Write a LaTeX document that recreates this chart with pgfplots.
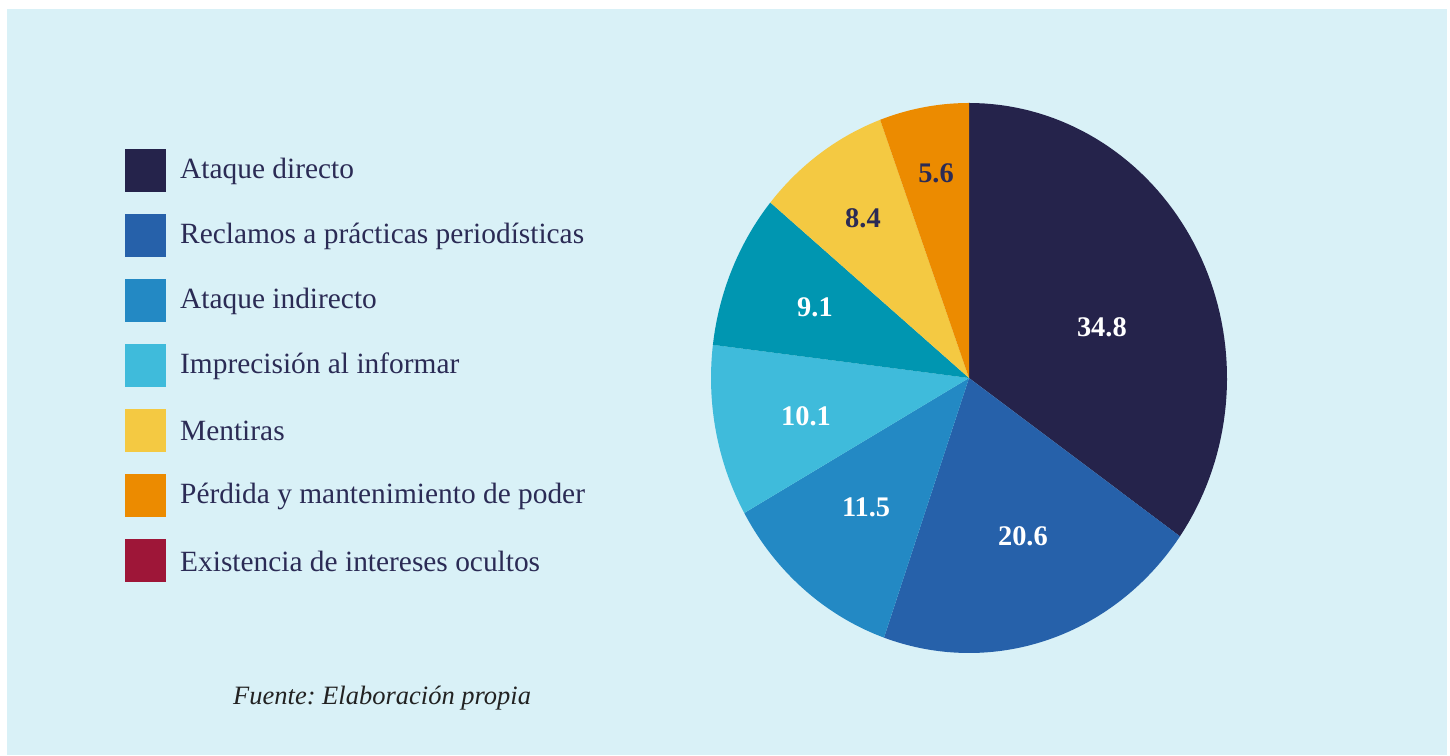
\documentclass[border=0pt]{standalone}
\usepackage{fontspec}
\setmainfont{Liberation Serif}
\usepackage{pgfplots}
\pgfplotsset{compat=1.18}
\frenchspacing
\definecolor{bg}{HTML}{D9F1F7}
\definecolor{cA}{HTML}{25234B}
\definecolor{cB}{HTML}{2661AA}
\definecolor{cC}{HTML}{2389C4}
\definecolor{cD}{HTML}{3FBBDB}
\definecolor{cT}{HTML}{0096B1}
\definecolor{cE}{HTML}{F4C942}
\definecolor{cF}{HTML}{EC8B00}
\definecolor{cG}{HTML}{9E1638}
\definecolor{txt}{HTML}{2B2B55}
\definecolor{src}{HTML}{222222}
\def\total{100.1}
% #1 cumulative before, #2 value, #3 colour
\newcommand\slice[3]{%
  \pgfmathsetmacro\sa{90-(#1)*(360/\total)}%
  \pgfmathsetmacro\se{90-(#1+#2)*(360/\total)}%
  \edef\tmp{\noexpand\fill[#3] (axis cs:0,0) \noexpand\foreach \noexpand\i in {0,...,72} { -- (axis cs:{cos(\sa+(\se-\sa)*\noexpand\i/72)},{sin(\sa+(\se-\sa)*\noexpand\i/72)}) } -- cycle;}%
  \tmp}
\begin{document}
\begin{tikzpicture}[x=1bp,y=1bp]
\useasboundingbox (0,0) rectangle (1450,755);
\fill[white] (0,0) rectangle (1450,755);
\fill[bg] (7,0) rectangle (1447,746);
\begin{axis}[hide axis, scale only axis, width=516bp, height=550bp,
  xmin=-1, xmax=1, ymin=-1, ymax=1, anchor=center, at={(969bp,377bp)}]
\slice{0}{34.8}{cA}
\slice{34.8}{20.6}{cB}
\slice{55.4}{11.5}{cC}
\slice{66.9}{10.1}{cD}
\slice{77.0}{9.1}{cT}
\slice{86.1}{8.4}{cE}
\slice{94.5}{5.6}{cF}
\begin{scope}[every node/.style={font=\fontsize{28.5}{32}\selectfont\bfseries}]
\node[white] at (axis cs:0.515,0.185) {34.8};
\node[white] at (axis cs:0.209,-0.575) {20.6};
\node[white] at (axis cs:-0.399,-0.469) {11.5};
\node[white] at (axis cs:-0.632,-0.138) {10.1};
\node[white] at (axis cs:-0.597,0.258) {9.1};
\node[txt] at (axis cs:-0.411,0.582) {8.4};
\node[txt] at (axis cs:-0.128,0.745) {5.6};
\end{scope}
\end{axis}
% legend
\foreach \c/\t [count=\k from 0] in {cA/Ataque directo, cB/Reclamos a prácticas periodísticas, cC/Ataque indirecto, cD/Imprecisión al informar, cE/Mentiras, cF/Pérdida y mantenimiento de poder, cG/Existencia de intereses ocultos}{
  \pgfmathsetmacro\yy{755-171-65*\k}
  \fill[\c] (125,\yy-21.5) rectangle (166,\yy+21.5);
  \node[anchor=west, inner sep=0pt, text=txt, font=\fontsize{29.5}{34}\selectfont] at (180,\yy) {\t};
}
\node[anchor=west, inner sep=0pt, text=src, font=\fontsize{26.6}{30}\selectfont\itshape] at (233,755-698) {Fuente: Elaboración propia};
\end{tikzpicture}
\end{document}
